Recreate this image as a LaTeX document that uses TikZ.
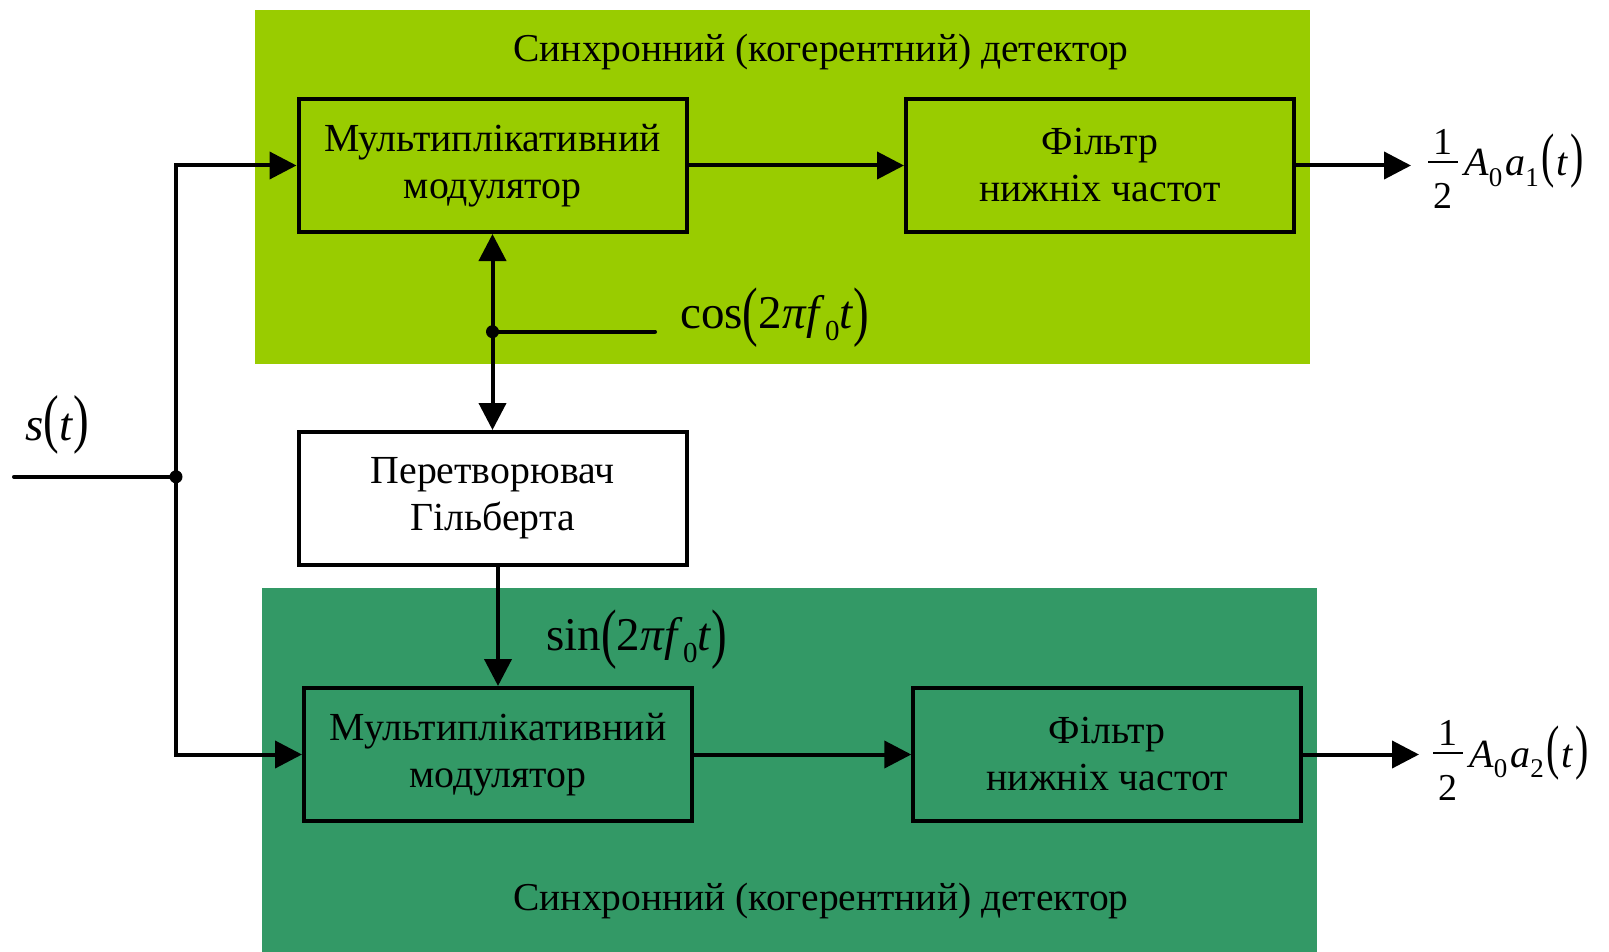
\documentclass[tikz,border=0pt]{standalone}
\usepackage{fontspec}
\setmainfont{Liberation Serif}
\usepackage{graphicx}
\usetikzlibrary{arrows.meta}
\definecolor{topgreen}{RGB}{153,204,0}
\definecolor{botgreen}{RGB}{51,153,102}
% tall parentheses: #1 vertical scale, #2 raise
\newcommand\lpr[2]{\raisebox{#2}{\scalebox{1}[#1]{(}}}
\newcommand\rpr[2]{\raisebox{#2}{\scalebox{1}[#1]{)}}}
\newcommand\sbs[2]{\raisebox{-0.27em}{\fontsize{#1}{#1}\selectfont #2}}
\begin{document}
\begin{tikzpicture}[x=1pt,y=-1pt,
  blk/.style={draw, line width=4pt, minimum width=388pt, minimum height=133pt,
              align=center, inner sep=0pt, font=\fontsize{39.8}{47}\selectfont},
  wire/.style={line width=4pt},
  arr/.style={wire, -{Triangle[length=27pt,width=27pt]}},
  dbl/.style={wire, {Triangle[length=27pt,width=27pt]}-{Triangle[length=27pt,width=27pt]}},
  ttl/.style={font=\fontsize{39.5}{47}\selectfont, anchor=base, inner sep=0pt},
  mlbl/.style={font=\fontsize{47}{52}\selectfont, anchor=base west, inner sep=0pt},
  olbl/.style={font=\fontsize{40}{42}\selectfont, anchor=base west, inner sep=0pt},
  frn/.style={font=\fontsize{38}{40}\selectfont, anchor=base, inner sep=0pt},
  dot/.style={circle, fill=black, inner sep=0pt, minimum size=13pt}
]
\useasboundingbox (0,0) rectangle (1609,952);
% background zones
\fill[topgreen] (255,10) rectangle (1310,364);
\fill[botgreen] (261.5,588) rectangle (1316.5,952);

% titles
\node[ttl] (t1) at (821,62) {Синхронний (когерентний) детектор};
\node[ttl] (t2) at (821,910) {Синхронний (когерентний) детектор};

% blocks
\node[blk, fill=topgreen] (tmod) at (492.5,165.5) {Мультиплікативний\\модулятор};
\node[blk, fill=topgreen] (tfil) at (1100,165.5) {Фільтр\\нижніх частот};
\node[blk, fill=white]    (hil)  at (492.5,498.5) {Перетворювач\\Гільберта};
\node[blk, fill=botgreen] (bmod) at (498,754.5) {Мультиплікативний\\модулятор};
\node[blk, fill=botgreen] (bfil) at (1107.3,754.5) {Фільтр\\нижніх частот};

% coordinates
\coordinate (in) at (14,476.8);
\node[dot] (j) at (176,476.8) {};
\node[dot] (jc) at (492.5,331.7) {};
\coordinate (cend) at (655,331.7);
\coordinate (out1) at (1411,165.5);
\coordinate (out2) at (1419,754.5);

% connectors
\draw[wire, line cap=round] (in) -- (j.center);
\draw[arr] (j.center) |- (tmod.west);
\draw[arr] (j.center) |- (bmod.west);
\draw[arr] (tmod.east) -- (tfil.west);
\draw[arr] (bmod.east) -- (bfil.west);
\draw[arr] (tfil.east) -- (out1);
\draw[arr] (bfil.east) -- (out2);
\draw[dbl] (tmod.south) -- (hil.north);
\draw[wire, line cap=round] (jc.center) -- (cend);
\draw[arr] (hil.south -| bmod.north) -- (bmod.north);

% signal labels
\node[mlbl] (slbl) at (25,440) {\textit{s}\lpr{1.38}{0.0em}\textit{t}\rpr{1.38}{0.0em}};
\node[mlbl] (cos) at (680,328) {cos\lpr{1.4}{-0.12em}2\textit{π\kern1pt f}\sbs{29}{0}\textit{t}\rpr{1.4}{-0.12em}};
\node[mlbl] (sin) at (546,650) {sin\lpr{1.4}{-0.12em}2\textit{π\kern1pt f}\sbs{29}{0}\textit{t}\rpr{1.4}{-0.12em}};

% outputs
\node[frn] (n1) at (1443,155) {1};
\node[frn] (d1) at (1443,209) {2};
\draw[line width=2pt] (1428,162) -- (1458,162);
\node[olbl] (o1) at (1464,176) {\textit{A}\sbs{27}{0}\hspace{3pt}\textit{a}\sbs{27}{1}\hspace{3pt}\lpr{1.5}{0.0em}\hspace{1pt}\textit{t}\hspace{2pt}\rpr{1.5}{0.0em}};
\node[frn] (n2) at (1448,745) {1};
\node[frn] (d2) at (1448,800) {2};
\draw[line width=2pt] (1433,753) -- (1463,753);
\node[olbl] (o2) at (1469,767) {\textit{A}\sbs{27}{0}\hspace{3pt}\textit{a}\sbs{27}{2}\hspace{3pt}\lpr{1.5}{0.0em}\hspace{1pt}\textit{t}\hspace{2pt}\rpr{1.5}{0.0em}};
\end{tikzpicture}
\end{document}
